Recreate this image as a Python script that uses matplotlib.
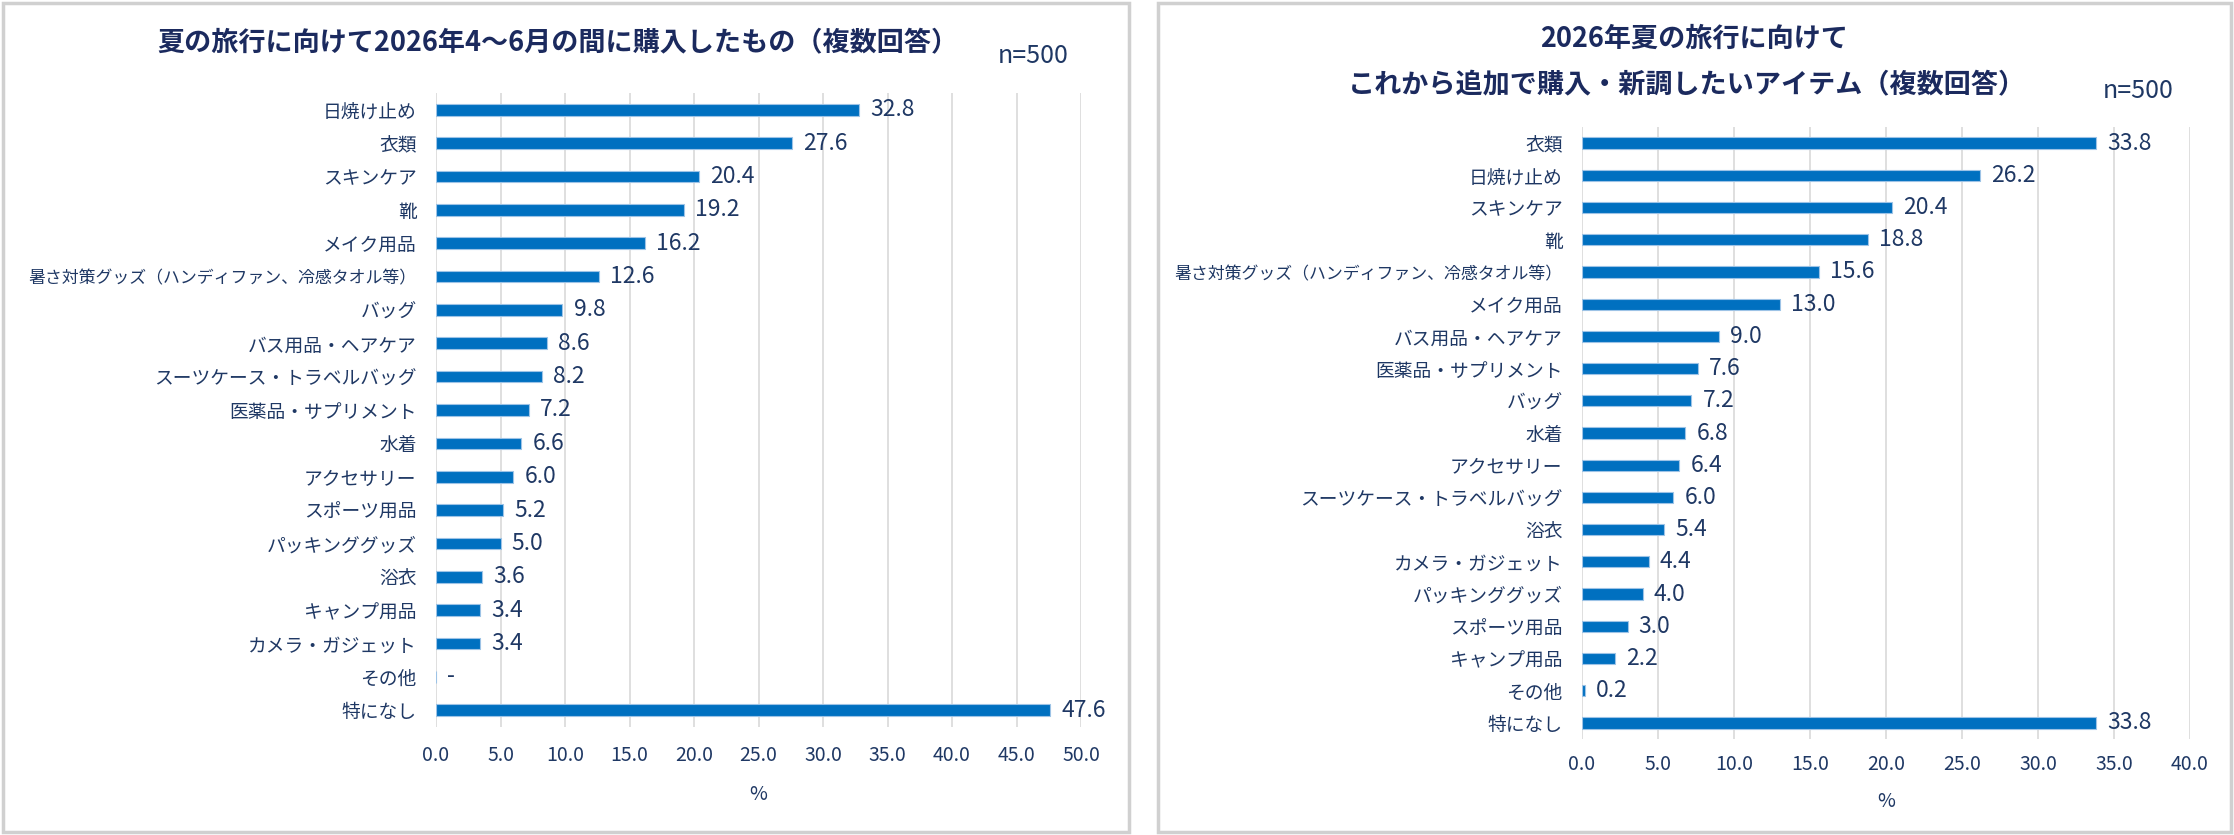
import matplotlib
matplotlib.use("Agg")
import matplotlib.pyplot as plt
from matplotlib.patches import Rectangle

plt.rcParams['font.family'] = ['Noto Sans CJK JP', 'DejaVu Sans']

# ---- data ----
left_title = "夏の旅行に向けて2026年4〜6月の間に購入したもの（複数回答）"
left_categories = ["日焼け止め", "衣類", "スキンケア", "靴", "メイク用品",
                   "暑さ対策グッズ（ハンディファン、冷感タオル等）", "バッグ",
                   "バス用品・ヘアケア", "スーツケース・トラベルバッグ",
                   "医薬品・サプリメント", "水着", "アクセサリー", "スポーツ用品",
                   "パッキンググッズ", "浴衣", "キャンプ用品", "カメラ・ガジェット",
                   "その他", "特になし"]
left_values = [32.8, 27.6, 20.4, 19.2, 16.2, 12.6, 9.8, 8.6, 8.2, 7.2, 6.6,
               6.0, 5.2, 5.0, 3.6, 3.4, 3.4, None, 47.6]
left_ticks = [0, 5, 10, 15, 20, 25, 30, 35, 40, 45, 50]

right_title1 = "2026年夏の旅行に向けて"
right_title2 = "これから追加で購入・新調したいアイテム（複数回答）"
right_categories = ["衣類", "日焼け止め", "スキンケア", "靴",
                    "暑さ対策グッズ（ハンディファン、冷感タオル等）", "メイク用品",
                    "バス用品・ヘアケア", "医薬品・サプリメント", "バッグ", "水着",
                    "アクセサリー", "スーツケース・トラベルバッグ", "浴衣",
                    "カメラ・ガジェット", "パッキンググッズ", "スポーツ用品",
                    "キャンプ用品", "その他", "特になし"]
right_values = [33.8, 26.2, 20.4, 18.8, 15.6, 13.0, 9.0, 7.6, 7.2, 6.8, 6.4,
                6.0, 5.4, 4.4, 4.0, 3.0, 2.2, 0.2, 33.8]
right_ticks = [0, 5, 10, 15, 20, 25, 30, 35, 40]
n_label = "n=500"

BAR = '#0070C0'
EDGE = '#9DC3E6'
TXT = '#1F3864'
TITLE = '#1B2A5E'
GRID = '#D9D9D9'

W, H = 2234, 835
fig = plt.figure(figsize=(W / 100, H / 100), dpi=100)
fig.patch.set_facecolor('white')

# panel borders
for (x0, x1) in [(3, 1129), (1158, 2231)]:
    fig.patches.append(Rectangle((x0 / W, 3 / H), (x1 - x0) / W, (H - 6) / H,
                                 transform=fig.transFigure, fill=False,
                                 edgecolor='#D0D0D0', linewidth=2.5))


def draw(ax, cats, vals, ticks, xmax, tickpad, labpad):
    ys = list(range(len(cats)))
    widths = [v if v is not None else 0 for v in vals]
    ax.barh(ys, widths, height=0.35, color=BAR, edgecolor=EDGE, linewidth=0.8,
            zorder=3)
    for y, v in zip(ys, vals):
        txt = "-" if v is None else f"{v:.1f}"
        ax.annotate(txt, xy=(v if v is not None else 0, y), xytext=(8, 0),
                    textcoords='offset points', va='center', ha='left',
                    fontsize=16.5, color=TXT, zorder=4)
    ax.set_ylim(len(cats) - 0.5, -0.5)
    ax.set_yticks(ys)
    ax.set_yticklabels(cats, fontsize=13.5, color=TXT)
    for lab in ax.get_yticklabels():
        if len(lab.get_text()) > 15:
            lab.set_fontsize(12.2)
    ax.set_xlim(0, xmax)
    ax.set_xticks(ticks)
    ax.set_xticklabels([f"{t:.1f}" for t in ticks], fontsize=14, color=TXT)
    ax.tick_params(axis='y', length=0, pad=14)
    ax.tick_params(axis='x', length=0, pad=tickpad)
    for s in ax.spines.values():
        s.set_visible(False)
    ax.grid(axis='x', color=GRID, linewidth=1.2, zorder=0)
    ax.set_axisbelow(True)
    ax.set_xlabel("%", fontsize=14, color=TXT, labelpad=labpad)


axL = fig.add_axes([436 / W, 1 - 727 / H, (1081 - 436) / W, (727 - 93) / H])
draw(axL, left_categories, left_values, left_ticks, 50, 13, 13)

axR = fig.add_axes([1582 / W, 1 - 739 / H, (2190 - 1582) / W, (739 - 127) / H])
draw(axR, right_categories, right_values, right_ticks, 40, 11, 11)

fig.text(558 / W, 1 - 43 / H, left_title, ha='center', va='center',
         fontsize=19.5, fontweight='bold', color=TITLE)
fig.text(998 / W, 1 - 56 / H, n_label, ha='left', va='center',
         fontsize=18, color=TXT)

fig.text(1694 / W, 1 - 39 / H, right_title1, ha='center', va='center',
         fontsize=19.5, fontweight='bold', color=TITLE)
fig.text(1687 / W, 1 - 85 / H, right_title2, ha='center', va='center',
         fontsize=19.5, fontweight='bold', color=TITLE)
fig.text(2103 / W, 1 - 91 / H, n_label, ha='left', va='center',
         fontsize=18, color=TXT)

fig.savefig("out.png", dpi=100, facecolor='white')
